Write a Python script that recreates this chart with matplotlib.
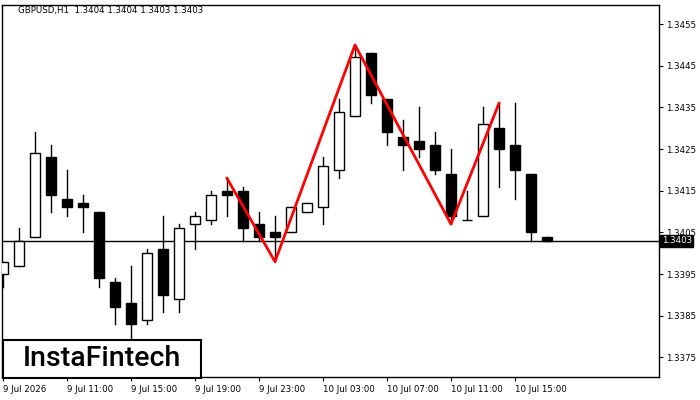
import matplotlib
matplotlib.use("Agg")
import matplotlib.pyplot as plt
import matplotlib.transforms as mtransforms
from matplotlib.patches import Rectangle

# GBPUSD H1 candles, 9 Jul 07:00 .. 10 Jul 17:00
opens = [1.3395, 1.3397, 1.3404, 1.3423, 1.3413, 1.3412, 1.3410, 1.3393, 1.3388, 1.3384,
         1.3401, 1.3389, 1.3407, 1.3408, 1.3415, 1.3415, 1.3407, 1.3405, 1.3405, 1.3410,
         1.3411, 1.3420, 1.3433, 1.3448, 1.3437, 1.3428, 1.3427, 1.3426, 1.3419, 1.3408,
         1.3409, 1.3430, 1.3426, 1.3419, 1.3404]
highs = [1.3398, 1.3406, 1.3429, 1.3426, 1.3420, 1.3414, 1.3410, 1.3394, 1.3397, 1.3401,
         1.3409, 1.3407, 1.3410, 1.3415, 1.3418, 1.3416, 1.3410, 1.3409, 1.3411, 1.3412,
         1.3423, 1.3437, 1.3450, 1.3448, 1.3437, 1.3432, 1.3435, 1.3429, 1.3425, 1.3415,
         1.3435, 1.3436, 1.3436, 1.3419, 1.3404]
lows = [1.3392, 1.3397, 1.3404, 1.3410, 1.3409, 1.3405, 1.3392, 1.3383, 1.3379, 1.3383,
        1.3386, 1.3386, 1.3401, 1.3407, 1.3409, 1.3403, 1.3403, 1.3398, 1.3405, 1.3410,
        1.3407, 1.3418, 1.3433, 1.3436, 1.3426, 1.3420, 1.3423, 1.3419, 1.3407, 1.3408,
        1.3409, 1.3416, 1.3413, 1.3403, 1.3403]
closes = [1.3398, 1.3403, 1.3424, 1.3414, 1.3411, 1.3411, 1.3394, 1.3387, 1.3383, 1.3400,
          1.3390, 1.3406, 1.3409, 1.3414, 1.3414, 1.3406, 1.3404, 1.3404, 1.3411, 1.3412,
          1.3421, 1.3434, 1.3447, 1.3438, 1.3429, 1.3426, 1.3425, 1.3420, 1.3409, 1.3408,
          1.3431, 1.3425, 1.3420, 1.3405, 1.3403]

# pattern (W shape) through these bars
pattern_bars = [14, 17, 22, 28, 31]
pattern_prices = [1.3418, 1.3398, 1.3450, 1.3407, 1.3436]

price_ticks = [1.3375, 1.3385, 1.3395, 1.3405, 1.3415, 1.3425, 1.3435, 1.3445, 1.3455]
time_ticks = [0, 4, 8, 12, 16, 20, 24, 28, 32]
time_labels = ["9 Jul 2026", "9 Jul 11:00", "9 Jul 15:00", "9 Jul 19:00", "9 Jul 23:00",
               "10 Jul 03:00", "10 Jul 07:00", "10 Jul 11:00", "10 Jul 15:00"]
last_price = 1.3403
title = "GBPUSD,H1  1.3404 1.3404 1.3403 1.3403"

fig = plt.figure(figsize=(7, 4), dpi=100)
ax = fig.add_axes([2 / 700, 23 / 400, 657 / 700, 372 / 400])

width = 0.62
for i in range(len(opens)):
    o, h, l, c = opens[i], highs[i], lows[i], closes[i]
    ax.plot([i, i], [l, h], color="black", lw=1, zorder=2)
    bottom = min(o, c)
    height = max(abs(c - o), 0.000005)
    face = "white" if c > o else "black"
    ax.add_patch(Rectangle((i - width / 2, bottom), width, height,
                           facecolor=face, edgecolor="black", lw=1, zorder=3))

ax.plot(pattern_bars, pattern_prices, color="#ff0000", lw=2, zorder=4)
ax.axhline(last_price, color="black", lw=1, zorder=1)

ax.set_xlim(-0.06, 41.0)
ax.set_ylim(1.33703, 1.34596)

ax.yaxis.tick_right()
ax.set_yticks(price_ticks)
ax.set_yticklabels(["%.4f" % p for p in price_ticks], fontsize=6.2)
ax.set_xticks(time_ticks)
ax.set_xticklabels(time_labels, fontsize=6.2, ha="left")
ax.tick_params(axis="both", direction="out", length=3, width=0.8, pad=2)
ax.tick_params(axis="x", pad=3)
for s in ax.spines.values():
    s.set_linewidth(1)

trans = mtransforms.blended_transform_factory(ax.transAxes, ax.transData)
ax.text(1.004, last_price, "%.4f" % last_price, transform=trans, fontsize=6.2,
        color="white", va="center", ha="left", clip_on=False, zorder=10,
        bbox=dict(boxstyle="square,pad=0.2", facecolor="black", edgecolor="black"))

fig.text(18 / 700, 1 - 11 / 400, title, fontsize=6.2, va="center", ha="left")

# logo box
fig.patches.append(Rectangle((3 / 700, 22 / 400), 198 / 700, 38 / 400, transform=fig.transFigure,
                             facecolor="white", edgecolor="black", lw=1.5, zorder=5))
fig.text(102 / 700, 41 / 400, "InstaFintech", fontsize=20.5, family="Roboto",
         weight="medium", ha="center", va="center", zorder=6)

fig.savefig("out.png", dpi=100)
